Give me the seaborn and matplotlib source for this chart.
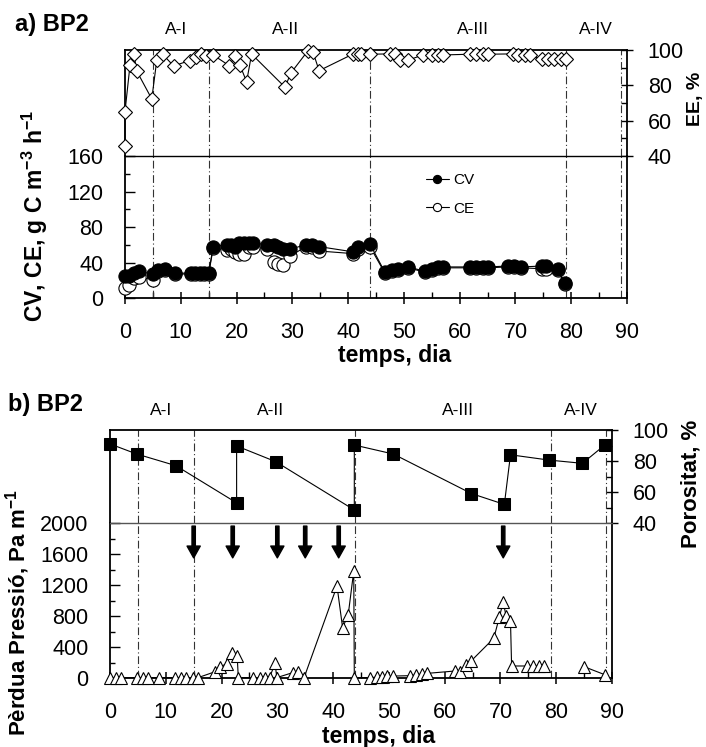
import numpy as np
import pandas as pd
import matplotlib
matplotlib.use('Agg')
import matplotlib.pyplot as plt
import seaborn as sns
from matplotlib.ticker import MultipleLocator

# ---------------- data ----------------
ee_days = [0, 0, 0.9, 1.6, 2.1, 4.8, 5.7, 6.75, 8.7, 11.6, 12.8, 13.7, 14.6, 15.8,
           18.7, 19.7, 20.6, 21.8, 22.7, 28.7, 29.7, 32.8, 33.7, 34.8, 40.8, 41.8,
           42.4, 43.9, 47.5, 48.4, 49.3, 50.8, 53.4, 55.0, 56.1, 57.0, 61.8, 63.0,
           64.2, 65.0, 69.5, 70.4, 71.7, 72.6, 74.7, 75.8, 77.0, 78.2, 79.0]
ee_vals = [45.8, 65.1, 91.5, 97.6, 88.1, 72.3, 94.3, 97.6, 91.0, 94.0, 96.2, 97.6, 96.6, 97.2,
           91.1, 96.6, 91.5, 82.0, 97.7, 78.9, 86.8, 99.6, 98.9, 88.3, 97.6, 97.6,
           97.6, 97.6, 97.8, 97.8, 94.5, 94.3, 97.2, 97.2, 97.2, 97.2, 97.6, 97.6,
           97.6, 97.6, 97.8, 97.2, 97.2, 97.2, 94.7, 94.7, 94.7, 94.7, 94.7]

cv_days = [0, 0.8, 1.7, 2.5, 5.0, 5.9, 7.1, 8.9, 11.8, 12.6, 13.4, 14.2, 15.0, 15.8,
           18.2, 19.0, 19.8, 20.5, 21.4, 22.3, 23.0, 25.5, 26.7, 27.5, 28.3, 29.6,
           32.4, 33.5, 34.7, 40.9, 41.8, 43.9, 46.6, 47.8, 49.0, 50.8, 53.8, 55.0,
           56.1, 57.0, 61.8, 63.0, 64.2, 65.0, 68.6, 69.8, 71.0, 74.7, 75.5, 77.6, 78.8]
cv_vals = [24.8, 25, 28, 30, 27, 32, 33, 28, 28, 28, 28, 28, 28, 57.8,
           60, 60, 58, 62, 62, 62, 62, 60, 60, 57, 55, 55,
           60, 60, 58, 52, 57, 61, 29, 31, 33, 35, 30, 33,
           35, 35, 35, 35, 35, 35, 36, 36, 35, 36, 36, 33, 16.5]
ce_vals = [11, 15, 22, 24, 20, 30, 31, 27, 27, 27, 27, 27, 27, 56,
           54, 55, 52, 50, 50, 58, 58, 55, 41, 38, 37, 47,
           58, 57, 53, 50, 55, 58, 28, 30, 32, 34, 29, 32,
           34, 34, 34, 34, 34, 34, 35, 35, 34, 33, 33, 31, 16]

por_days = [0, 4.8, 11.8, 22.7, 22.7, 29.7, 43.8, 43.8, 50.8, 64.8, 70.7, 71.8, 78.7, 84.7, 88.7]
por_vals = [91, 84.5, 77, 53, 89.7, 79.6, 48.4, 90.3, 84.5, 59, 52, 84, 80.6, 78.5, 90.3]

p_days = [0, 1.1, 1.9, 4.8, 5.9, 6.9, 8.7, 11.6, 12.8, 13.7, 14.8, 15.8, 18.8, 19.7,
          20.9, 21.8, 22.8, 23.0, 25.7, 26.9, 27.8, 28.6, 29.6, 29.9, 32.8, 33.7, 34.8,
          40.7, 41.7, 42.7, 43.7, 43.8, 46.7, 47.8, 48.7, 49.6, 50.7, 53.8, 54.8, 55.9,
          56.9, 61.8, 62.8, 63.8, 64.8, 68.8, 69.8, 70.5, 71.0, 71.8, 72.0, 74.8, 75.9,
          76.9, 77.8, 85.0, 88.8]
p_vals = [5, 5, 5, 5, 5, 5, 5, 5, 5, 5, 5, 5, 80, 146,
          180, 320, 290, 5, 5, 5, 5, 5, 190, 5, 70, 80, 5,
          1187, 650, 813, 1380, 5, 5, 10, 15, 20, 25, 30, 40, 50,
          60, 90, 80, 168, 224, 512, 783, 985, 800, 740, 155, 155, 155,
          160, 160, 146, 40]
p_segment = [0] * 55 + [1] * 2

arrow_days = [15, 22, 30, 35, 41, 70.5]
phase_bounds = [5, 15, 44, 79, 89]
phase_names = ['A-I', 'A-II', 'A-III', 'A-IV']
phase_label_x = [9.2, 28.8, 62.3, 84.4]

# ---------------- style ----------------
sns.set_theme(style='white')
plt.rcParams['font.family'] = ['Liberation Sans', 'DejaVu Sans']
plt.rcParams['mathtext.fontset'] = 'custom'
plt.rcParams['mathtext.rm'] = 'Liberation Sans:bold'
plt.rcParams['mathtext.bf'] = 'Liberation Sans:bold'
plt.rcParams['mathtext.default'] = 'bf'
for k in ('text.color', 'axes.labelcolor', 'xtick.color', 'ytick.color', 'axes.edgecolor'):
    plt.rcParams[k] = 'black'

W, H = 706, 747
fig = plt.figure(figsize=(W / 100, H / 100), dpi=100)


def px_axes(x0, y0, x1, y1):
    return fig.add_axes([x0 / W, 1 - y1 / H, (x1 - x0) / W, (y1 - y0) / H])


ax_ee = px_axes(125, 50, 627, 156)
ax_cv = px_axes(125, 156, 627, 298)
ax_por = px_axes(110, 430, 612, 523)
ax_p = px_axes(110, 523, 612, 678)

for ax in (ax_ee, ax_cv, ax_por, ax_p):
    ax.set_facecolor('white')
    for s in ax.spines.values():
        s.set_color('black')
        s.set_linewidth(1.3)
    ax.set_xlim(0, 90)

for ax in (ax_ee, ax_por):
    ax.spines['bottom'].set_visible(False)
    ax.set_xticks([])
ax_cv.spines['top'].set_linewidth(1.0)
ax_p.spines['top'].set_linewidth(1.0)
ax_p.spines['top'].set_color('#555555')

# vertical phase lines
dashdot = (0, (7, 2.5, 1, 2.5))
for ax in (ax_ee, ax_cv, ax_por, ax_p):
    for b in phase_bounds:
        ax.axvline(b, color='#333333', lw=0.8, ls=dashdot, zorder=1)

lw = 0.8
# ---- top panel ----
df_ee = pd.DataFrame({'day': ee_days, 'ee': ee_vals})
sns.lineplot(data=df_ee, x='day', y='ee', ax=ax_ee, sort=False, estimator=None,
             color='black', lw=lw, marker='D', markersize=7.2, markerfacecolor='white',
             markeredgecolor='black', markeredgewidth=0.8, clip_on=False, zorder=3)
ax_ee.set_ylim(40, 100)
ax_ee.set_xlim(0, 90)

df_cv = pd.DataFrame({'day': cv_days, 'cv': cv_vals, 'ce': ce_vals})
sns.lineplot(data=df_cv, x='day', y='ce', ax=ax_cv, sort=False, estimator=None,
             color='black', lw=lw, marker='o', markersize=9.5, markerfacecolor='white',
             markeredgecolor='black', markeredgewidth=0.8, clip_on=False, zorder=3, label='CE')
sns.lineplot(data=df_cv, x='day', y='cv', ax=ax_cv, sort=False, estimator=None,
             color='black', lw=lw, marker='o', markersize=9.5, markerfacecolor='black',
             markeredgecolor='black', markeredgewidth=0.8, clip_on=False, zorder=4, label='CV')
ax_cv.set_ylim(0, 160)
ax_cv.set_xlim(0, 90)
handles, labels = ax_cv.get_legend_handles_labels()
order = [labels.index('CV'), labels.index('CE')]
leg = ax_cv.legend([handles[i] for i in order], [labels[i] for i in order],
                   loc='center', bbox_to_anchor=(0.648, 0.73), frameon=False,
                   fontsize=11, markerscale=0.62, handlelength=1.45, labelspacing=0.95,
                   handletextpad=0.3)

# ---- bottom panel ----
df_por = pd.DataFrame({'day': por_days, 'por': por_vals})
sns.lineplot(data=df_por, x='day', y='por', ax=ax_por, sort=False, estimator=None,
             color='black', lw=lw, marker='s', markersize=9, markerfacecolor='black',
             markeredgecolor='black', clip_on=False, zorder=3)
ax_por.set_ylim(40, 100)
ax_por.set_xlim(0, 90)

df_p = pd.DataFrame({'day': p_days, 'p': p_vals, 'seg': p_segment})
sns.lineplot(data=df_p, x='day', y='p', units='seg', ax=ax_p, sort=False, estimator=None,
             color='black', lw=lw, marker='^', markersize=9, markerfacecolor='white',
             markeredgecolor='black', markeredgewidth=0.8, clip_on=False, zorder=3)
ax_p.set_ylim(0, 2000)
ax_p.set_xlim(0, 90)
for d in arrow_days:
    ax_p.annotate('', xy=(d, 1550), xytext=(d, 1960),
                  arrowprops=dict(facecolor='black', edgecolor='black', width=2.4,
                                  headwidth=9.5, headlength=8.5, shrink=0), zorder=5)

for ax in (ax_ee, ax_cv, ax_por, ax_p):
    ax.set_xlabel('')
    ax.set_ylabel('')

# ---- ticks ----
TICK_FS = 15.5
for ax in (ax_cv, ax_p):
    ax.xaxis.set_major_locator(MultipleLocator(10))
    ax.xaxis.set_minor_locator(MultipleLocator(5))
    ax.tick_params(axis='x', which='major', direction='inout', length=9, width=1.1,
                   pad=13, labelsize=TICK_FS, bottom=True, top=False, colors='black')
    ax.tick_params(axis='x', which='minor', direction='in', length=4.5, width=1.0,
                   bottom=True, top=False, colors='black')
    ax.tick_params(axis='y', which='both', direction='in', left=True, right=False,
                   labelsize=TICK_FS, pad=15.5, width=1.0, colors='black')
    ax.tick_params(axis='y', which='major', length=7)
    ax.tick_params(axis='y', which='minor', length=3.5)
ax_cv.yaxis.set_major_locator(MultipleLocator(40))
ax_cv.yaxis.set_minor_locator(MultipleLocator(20))
ax_p.yaxis.set_major_locator(MultipleLocator(400))
ax_p.yaxis.set_minor_locator(MultipleLocator(200))

for ax in (ax_ee, ax_por):
    ax.yaxis.tick_right()
    ax.yaxis.set_major_locator(MultipleLocator(20))
    ax.yaxis.set_minor_locator(MultipleLocator(10))
    ax.tick_params(axis='y', which='major', direction='inout', length=8, width=1.0,
                   right=True, left=False, labelright=True, labelleft=False,
                   labelsize=TICK_FS, pad=11, colors='black')
    ax.tick_params(axis='y', which='minor', direction='in', length=4, width=1.0,
                   right=True, left=False)

# ---- texts ----
for name, x in zip(phase_names, phase_label_x):
    ax_ee.text(x, 1.19, name, transform=ax_ee.get_xaxis_transform(), ha='center',
               va='center', fontsize=12.5, color='black')
    ax_por.text(x, 1.205, name, transform=ax_por.get_xaxis_transform(), ha='center',
                va='center', fontsize=12.5, color='black')


def ftext(x, y, s, **kw):
    fig.text(x / W, 1 - y / H, s, color='black', **kw)


ftext(15, 25, 'a) BP2', ha='left', va='center', fontsize=17, fontweight='bold')
ftext(8, 405, 'b) BP2', ha='left', va='center', fontsize=17, fontweight='bold')
ftext(395, 356, 'temps, dia', ha='center', va='center', fontsize=16.5, fontweight='bold')
ftext(379, 736, 'temps, dia', ha='center', va='center', fontsize=16.5, fontweight='bold')
ftext(43, 216, r'CV, CE, g C m$^{-3}$ h$^{-1}$', rotation=90, rotation_mode='anchor',
      ha='center', va='baseline', fontsize=16.5, fontweight='bold')
ftext(25, 612, r'Pèrdua Pressió, Pa m$^{-1}$', rotation=90, rotation_mode='anchor',
      ha='center', va='baseline', fontsize=16, fontweight='bold')
ftext(700, 99, 'EE, %', rotation=90, rotation_mode='anchor',
      ha='center', va='baseline', fontsize=14, fontweight='bold')
ftext(697, 484, 'Porositat, %', rotation=90, rotation_mode='anchor',
      ha='center', va='baseline', fontsize=16, fontweight='bold')

fig.savefig('out.png', dpi=100)
